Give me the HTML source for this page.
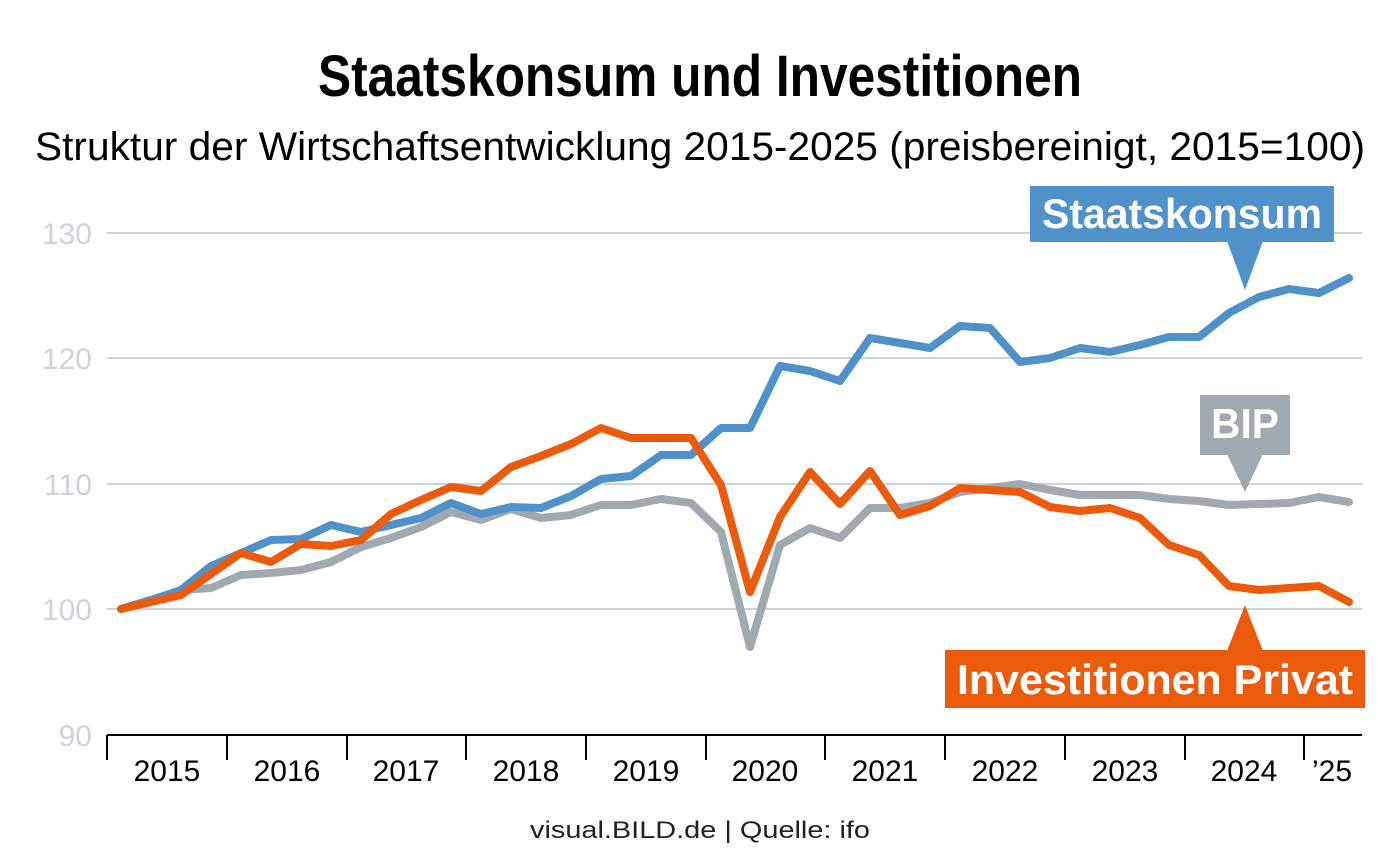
<!DOCTYPE html>
<html><head><meta charset="utf-8"><style>html,body{margin:0;padding:0;background:#fff}svg{display:block}</style></head><body>
<svg width="1400" height="862" viewBox="0 0 1400 862" xmlns="http://www.w3.org/2000/svg" font-family="Liberation Sans, sans-serif">
<text x="700" y="96" text-anchor="middle" font-size="58" font-weight="bold" textLength="764" lengthAdjust="spacingAndGlyphs">Staatskonsum und Investitionen</text>
<text x="700" y="160" text-anchor="middle" font-size="40" textLength="1330" lengthAdjust="spacingAndGlyphs">Struktur der Wirtschaftsentwicklung 2015-2025 (preisbereinigt, 2015=100)</text>
<g stroke="#c9d4db" stroke-width="2">
<line x1="107" y1="233" x2="1362" y2="233"/><line x1="107" y1="358" x2="1362" y2="358"/><line x1="107" y1="484" x2="1362" y2="484"/><line x1="107" y1="609" x2="1362" y2="609"/>
</g>
<g fill="#c9d4db" font-size="30" text-anchor="end">
<text x="92" y="244">130</text><text x="92" y="369">120</text><text x="92" y="495">110</text><text x="92" y="620">100</text><text x="92" y="746">90</text>
</g>
<line x1="107" y1="735" x2="1362" y2="735" stroke="#000" stroke-width="2"/>
<g stroke="#000" stroke-width="2">
<line x1="107" y1="735" x2="107" y2="760"/><line x1="227" y1="735" x2="227" y2="760"/><line x1="347" y1="735" x2="347" y2="760"/><line x1="466" y1="735" x2="466" y2="760"/><line x1="586" y1="735" x2="586" y2="760"/><line x1="706" y1="735" x2="706" y2="760"/><line x1="825" y1="735" x2="825" y2="760"/><line x1="945" y1="735" x2="945" y2="760"/><line x1="1065" y1="735" x2="1065" y2="760"/><line x1="1185" y1="735" x2="1185" y2="760"/><line x1="1304" y1="735" x2="1304" y2="760"/>
</g>
<g font-size="30" text-anchor="middle">
<text x="167" y="781">2015</text><text x="287" y="781">2016</text><text x="406" y="781">2017</text><text x="526" y="781">2018</text><text x="646" y="781">2019</text><text x="765" y="781">2020</text><text x="885" y="781">2021</text><text x="1005" y="781">2022</text><text x="1125" y="781">2023</text><text x="1244" y="781">2024</text><text x="1332" y="781">’25</text>
</g>
<text x="700" y="838" text-anchor="middle" font-size="24" fill="#222" textLength="340" lengthAdjust="spacingAndGlyphs">visual.BILD.de | Quelle: ifo</text>
<g fill="none" stroke-width="8" stroke-linejoin="round" stroke-linecap="round">
<polyline stroke="#a0a9b0" points="121,609 151,600 181,590 211,588 241,575 271,573 301,570 331,562 361,547 391,538 421,527 451,512 481,520 511,509 541,518 571,515 601,505 631,505 661,499 691,503 721,532 750,647 780,545 810,528 840,538 870,508 900,508 930,503 960,492 990,488 1020,484 1050,490 1080,495 1110,495 1140,495 1169,499 1199,501 1229,505 1259,504 1289,503 1319,497 1349,502"/>
<polyline stroke="#4f92c9" points="121,609 151,600 181,590 211,566 241,553 271,540 301,539 331,525 361,532 391,525 421,518 451,503 481,514 511,507 541,508 571,496 601,479 631,476 661,455 691,455 721,428 750,428 780,366 810,371 840,381 870,338 900,343 930,348 960,326 990,328 1020,362 1050,358 1080,348 1110,352 1140,345 1169,337 1199,337 1229,313 1259,297 1289,289 1319,293 1349,278"/>
<polyline stroke="#ec5b0c" points="121,609 151,602 181,595 211,574 241,553 271,562 301,544 331,546 361,540 391,514 421,500 451,487 481,491 511,467 541,456 571,444 601,428 631,438 661,438 691,438 721,485 750,592 780,517 810,472 840,504 870,471 900,515 930,506 960,488 990,490 1020,492 1050,507 1080,511 1110,508 1140,518 1169,545 1199,555 1229,586 1259,590 1289,588 1319,586 1349,602"/>
</g>
<rect x="1030" y="186" width="304" height="56" fill="#4f92c9"/>
<polygon points="1227,241 1263,241 1245,290" fill="#4f92c9"/>
<text x="1182" y="228" text-anchor="middle" font-size="42" font-weight="bold" fill="#fff" textLength="280" lengthAdjust="spacingAndGlyphs">Staatskonsum</text>
<rect x="1200" y="395" width="90" height="60" fill="#a0a9b0"/>
<polygon points="1227,454 1263,454 1245,492" fill="#a0a9b0"/>
<text x="1245" y="438" text-anchor="middle" font-size="42" font-weight="bold" fill="#fff" textLength="68" lengthAdjust="spacingAndGlyphs">BIP</text>
<rect x="945" y="650" width="420" height="58" fill="#ec5b0c"/>
<polygon points="1227,651 1263,651 1245,605" fill="#ec5b0c"/>
<text x="1155" y="694" text-anchor="middle" font-size="42" font-weight="bold" fill="#fff" textLength="396" lengthAdjust="spacingAndGlyphs">Investitionen Privat</text>
</svg>
</body></html>
